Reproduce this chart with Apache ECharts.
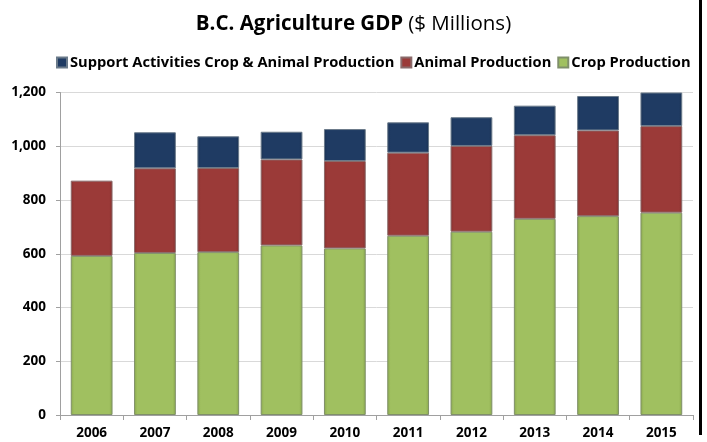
<!DOCTYPE html>
<html>
<head>
<meta charset="utf-8">
<script src="https://cdn.jsdelivr.net/npm/echarts@6/dist/echarts.min.js"></script>
<style>html,body{margin:0;padding:0;background:#fff}#c{width:707px;height:442px}</style>
</head>
<body>
<div id="c"></div>
<script>
var years = ['2006','2007','2008','2009','2010','2011','2012','2013','2014','2015'];
var cropProduction = [592, 603, 606, 631, 620, 667, 682, 730, 740, 753];
var animalProduction = [280, 315, 313, 320, 325, 309, 319, 311, 319, 322];
var supportActivities = [null, 134, 118, 103, 119, 113, 107, 110, 128, 125];
var yTicks = [0, 200, 400, 600, 800, 1000, 1200];

var FONT = '"Open Sans", sans-serif';
function grad(c1, c2) {
  return new echarts.graphic.LinearGradient(0, 0, 1, 0, [
    {offset: 0, color: c2}, {offset: 0.08, color: c1}, {offset: 0.92, color: c1}, {offset: 1, color: c2}
  ]);
}
var chart = echarts.init(document.getElementById('c'), null, {renderer: 'canvas'});
chart.setOption({
  animation: false,
  backgroundColor: '#fff',
  title: {
    text: '{b|B.C. Agriculture GDP} {n|($ Millions)}',
    left: 'center', top: 9,
    textStyle: {
      rich: {
        b: {fontFamily: FONT, fontWeight: 'bold', fontSize: 20.5, color: '#000'},
        n: {fontFamily: FONT, fontWeight: 'normal', fontSize: 20.5, color: '#000'}
      }
    }
  },
  legend: {
    top: 50, left: 51,
    itemWidth: 10, itemHeight: 10, itemGap: 6,
    icon: 'rect',
    textStyle: {fontFamily: FONT, fontWeight: 'bold', fontSize: 14.7, color: '#000', padding: [0, 0, 0, -2]},
    data: ['Support Activities Crop & Animal Production', 'Animal Production', 'Crop Production']
  },
  grid: {left: 60, right: 14, top: 92.5, bottom: 27},
  xAxis: {
    type: 'category', data: years,
    axisLine: {lineStyle: {color: '#a0a0a0'}},
    axisTick: {show: true, length: 5, lineStyle: {color: '#a0a0a0'}},
    axisLabel: {fontFamily: FONT, fontWeight: 'bold', fontSize: 13.5, color: '#000', margin: 11}
  },
  yAxis: {
    type: 'value', min: 0, max: 1200, interval: 200,
    axisLine: {show: true, lineStyle: {color: '#a0a0a0'}},
    axisTick: {show: true, length: 4, lineStyle: {color: '#a0a0a0'}},
    splitLine: {lineStyle: {color: '#d9d9d9'}},
    axisLabel: {fontFamily: FONT, fontWeight: 'bold', fontSize: 13.5, color: '#000', margin: 14,
      formatter: function (v) { return yTicks.indexOf(v) >= 0 ? v.toLocaleString('en-US') : ''; }}
  },
  series: [
    {name: 'Crop Production', type: 'bar', stack: 's', data: cropProduction, barWidth: '66%',
      itemStyle: {color: grad('#a0c060', '#8aa84c'), borderColor: '#7f8f6a', borderWidth: 1}},
    {name: 'Animal Production', type: 'bar', stack: 's', data: animalProduction,
      itemStyle: {color: grad('#9b3a38', '#86302e'), borderColor: '#8a6a6a', borderWidth: 1}},
    {name: 'Support Activities Crop & Animal Production', type: 'bar', stack: 's', data: supportActivities,
      itemStyle: {color: grad('#1f3b63', '#1a3254'), borderColor: '#6a7a8a', borderWidth: 1}}
  ],
  color: ['#a0c060', '#9b3a38', '#1f3b63'],
  graphic: [{type: 'rect', shape: {x: 699, y: 0, width: 3, height: 435}, style: {fill: '#000'}}]
});
</script>
</body>
</html>
